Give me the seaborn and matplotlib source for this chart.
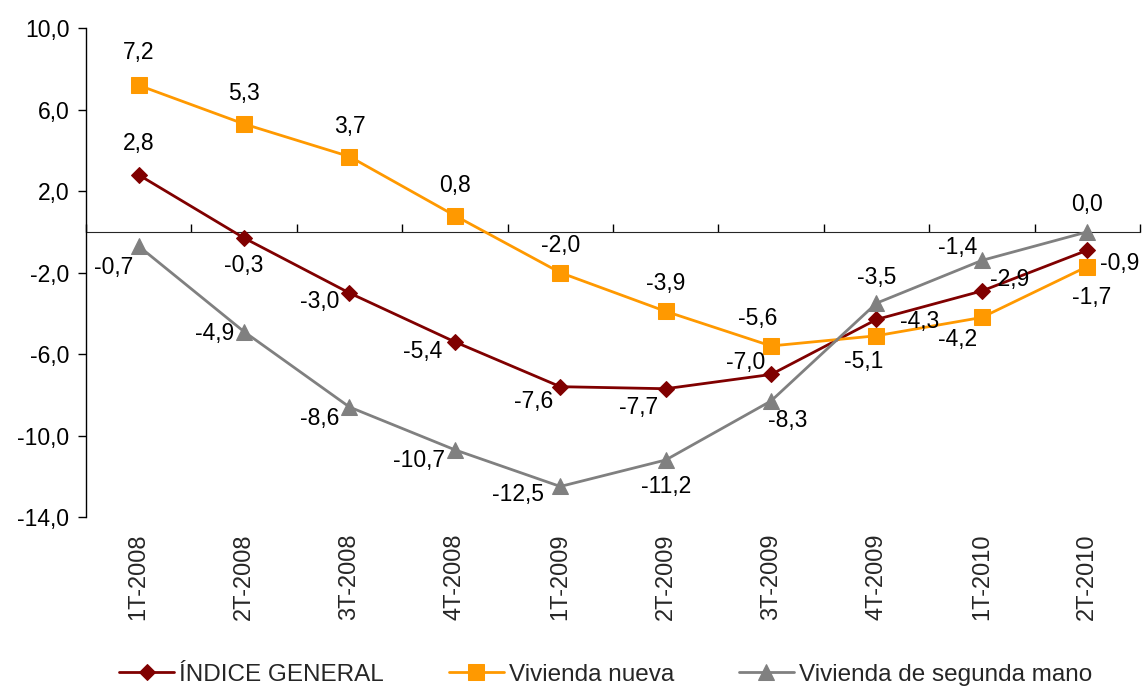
import numpy as np
import pandas as pd
import matplotlib
matplotlib.use("Agg")
import matplotlib.pyplot as plt
import seaborn as sns
from matplotlib.ticker import FuncFormatter, FixedLocator

# Data
trimestres = ["1T-2008", "2T-2008", "3T-2008", "4T-2008", "1T-2009",
              "2T-2009", "3T-2009", "4T-2009", "1T-2010", "2T-2010"]
indice_general = [2.8, -0.3, -3.0, -5.4, -7.6, -7.7, -7.0, -4.3, -2.9, -0.9]
vivienda_nueva = [7.2, 5.3, 3.7, 0.8, -2.0, -3.9, -5.6, -5.1, -4.2, -1.7]
segunda_mano = [-0.7, -4.9, -8.6, -10.7, -12.5, -11.2, -8.3, -3.5, -1.4, 0.0]

series_names = ["ÍNDICE GENERAL", "Vivienda nueva", "Vivienda de segunda mano"]
series_values = [indice_general, vivienda_nueva, segunda_mano]
colors = ["#800000", "#FF9900", "#808080"]
markers = ["D", "s", "^"]
marker_sizes = [8, 11, 11]

# label offsets in pixels (dx, dy) relative to each point, dy positive = up
label_offsets = [
    [(0, 31), (0, -27), (-30, -8), (-32, -10), (-27, -15), (-27, -19),
     (-25, 12), (43, -2), (28, 11), (32, -13)],
    [(0, 33), (0, 30), (0, 30), (0, 30), (0, 27), (0, 28),
     (-13, 27), (-13, -26), (-24, -22), (4, -31)],
    [(-25, -21), (-29, -2), (-30, -11), (-36, -11), (-42, -8), (0, -26),
     (17, -20), (0, 26), (-24, 13), (0, 27)],
]

sns.set_style("white")
plt.rcParams["font.family"] = ["Liberation Sans", "DejaVu Sans"]

fig = plt.figure(figsize=(11.45, 6.89), dpi=100)
ax = fig.add_axes([0.0751, 0.2496, 0.9205, 0.7094])

xpos = np.arange(len(trimestres))
for name, vals, col, mk, ms in zip(series_names, series_values, colors, markers, marker_sizes):
    df = pd.DataFrame({"x": xpos, "y": vals})
    sns.lineplot(data=df, x="x", y="y", ax=ax, color=col, marker=mk,
                 markersize=ms, markeredgecolor=col, linewidth=2,
                 label=name, sort=False)

px2pt = 72 / 100
for vals, offs in zip(series_values, label_offsets):
    for xi, v, (dx, dy) in zip(xpos, vals, offs):
        ax.annotate(f"{v:.1f}".replace(".", ","), (xi, v),
                    xytext=(dx * px2pt, dy * px2pt), textcoords="offset points",
                    ha="center", va="center", fontsize=16.5, color="black")

ax.set_xlim(-0.5, len(trimestres) - 0.5)
ax.set_ylim(-14, 10)
ax.set_yticks(np.arange(-14, 11, 4))
ax.yaxis.set_major_formatter(FuncFormatter(lambda v, p: f"{v:.1f}".replace(".", ",")))
ax.tick_params(axis="y", left=True, direction="out", length=6, width=1,
               labelsize=16.5, colors="black", pad=6)
ax.set_xlabel("")
ax.set_ylabel("")

# category labels below the plot area
ax.set_xticks(xpos)
ax.set_xticklabels(trimestres, rotation=90, fontsize=17)
ax.tick_params(axis="x", bottom=True, length=0, pad=12)

for s in ["top", "right", "bottom"]:
    ax.spines[s].set_visible(False)
ax.spines["left"].set_color("black")
ax.spines["left"].set_linewidth(1)

# zero line with boundary ticks
frac0 = (0 - (-14)) / (10 - (-14))
sec = ax.secondary_xaxis(frac0)
sec.set_xticks([])
sec.xaxis.set_minor_locator(FixedLocator(np.arange(-0.5, len(trimestres), 1.0)))
sec.tick_params(axis="x", which="minor", direction="out", length=6, width=1, colors="black")
sec.tick_params(axis="x", which="major", length=0, labelbottom=False)
sec.spines["bottom"].set_color("black")
sec.spines["bottom"].set_linewidth(1)

ax.get_legend().remove()
handles, labels = ax.get_legend_handles_labels()
fig.legend(handles, labels, loc="center", bbox_to_anchor=(0.529, 0.021),
           ncol=3, frameon=False, fontsize=17.5, handlelength=2.26,
           handletextpad=0.2, columnspacing=2.67)

fig.savefig("out.png", dpi=100)
